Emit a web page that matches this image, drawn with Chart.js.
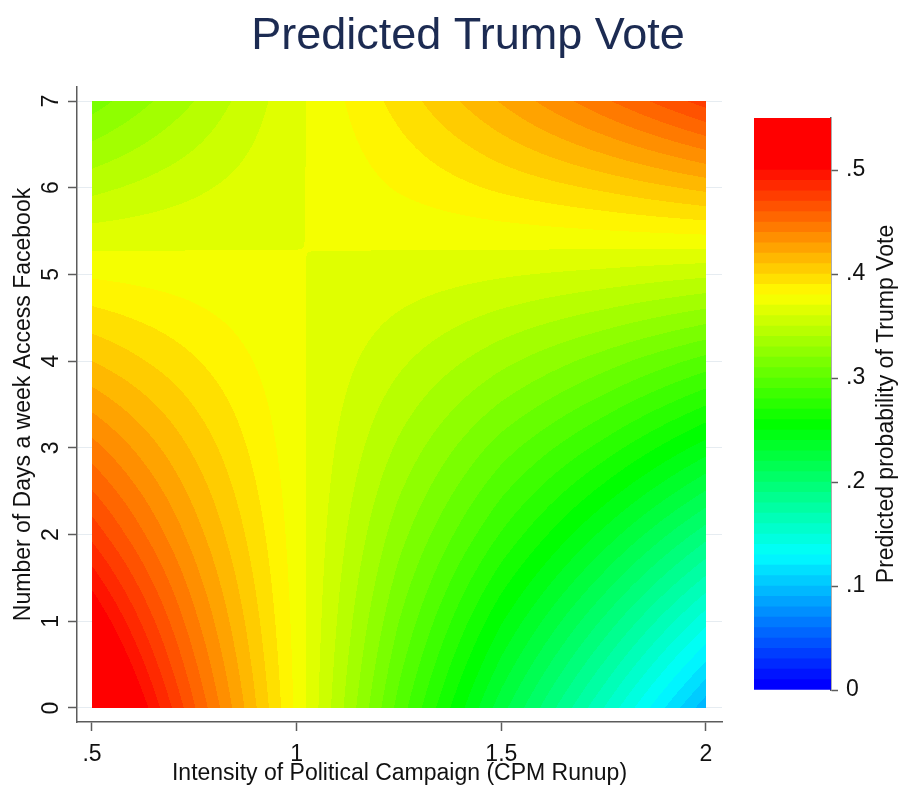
<!DOCTYPE html>
<html>
<head>
<meta charset="utf-8">
<title>Predicted Trump Vote</title>
<script src="https://cdn.jsdelivr.net/npm/chart.js@4.4.1/dist/chart.umd.min.js"></script>
<style>
  html, body { margin: 0; padding: 0; background: #fff; overflow: hidden; }
  #wrap { position: relative; width: 904px; height: 794px; }
  #main { position: absolute; left: 0; top: 0; }
  #bar { position: absolute; left: 740px; top: 0; }
</style>
</head>
<body>
<div id="wrap">
  <canvas id="main" width="904" height="794"></canvas>
  <canvas id="bar" width="164" height="794"></canvas>
</div>
<script>
// grid: campaign intensity (x) by days on facebook (y)
const campaignX = [0.5, 0.75, 1, 1.25, 1.5, 1.75, 2];
const daysY = [0, 1, 2, 3, 4, 5, 6, 7];

// predicted probability per row of days, one value per campaignX
const probDays0 = [0.548, 0.461, 0.3773, 0.296, 0.224, 0.160, 0.093];
const probDays1 = [0.513, 0.443, 0.3759, 0.310, 0.251, 0.198, 0.143];
const probDays2 = [0.477, 0.425, 0.3745, 0.324, 0.279, 0.237, 0.194];
const probDays3 = [0.444, 0.408, 0.3731, 0.338, 0.305, 0.276, 0.245];
const probDays4 = [0.410, 0.391, 0.3718, 0.352, 0.333, 0.315, 0.296];
const probDays5 = [0.3785, 0.3746, 0.3704, 0.3658, 0.3612, 0.3570, 0.352];
const probDays6 = [0.347, 0.358, 0.3690, 0.381, 0.392, 0.402, 0.413];
const probDays7 = [0.315, 0.340, 0.3676, 0.394, 0.421, 0.448, 0.475];
const probRows = [probDays0, probDays1, probDays2, probDays3, probDays4, probDays5, probDays6, probDays7];

// contour cuts (steps of .01) and top of the legend
const contourCuts = [0, .01, .02, .03, .04, .05, .06, .07, .08, .09,
  .10, .11, .12, .13, .14, .15, .16, .17, .18, .19,
  .20, .21, .22, .23, .24, .25, .26, .27, .28, .29,
  .30, .31, .32, .33, .34, .35, .36, .37, .38, .39,
  .40, .41, .42, .43, .44, .45, .46, .47, .48, .49, .50];
const legendTop = 0.55;

const xTicks = [0.5, 1, 1.5, 2];
const xTickLabels = ['.5', '1', '1.5', '2'];
const yTicks = [0, 1, 2, 3, 4, 5, 6, 7];
const yTickLabels = ['0', '1', '2', '3', '4', '5', '6', '7'];
const legendTicks = [0, 0.1, 0.2, 0.3, 0.4, 0.5];
const legendTickLabels = ['0', '.1', '.2', '.3', '.4', '.5'];

const FONT = "'Liberation Sans', Arial, sans-serif";
const AXIS = '#5c5c5c';

// band k (1..51) -> hue from blue to red
function bandColor(k) {
  const n = contourCuts.length;
  const h = 240 * (n - k) / (n - 1);
  let r, g, b;
  if (h >= 180) { r = 0; g = 1 - (h - 180) / 60; b = 1; }
  else if (h >= 120) { r = 0; g = 1; b = (h - 120) / 60; }
  else if (h >= 60) { r = 1 - (h - 60) / 60; g = 1; b = 0; }
  else { r = 1; g = h / 60; b = 0; }
  return 'rgb(' + Math.round(r * 255) + ',' + Math.round(g * 255) + ',' + Math.round(b * 255) + ')';
}
const bandColors = contourCuts.map((c, i) => bandColor(i + 1));

function bandOf(v) {
  let k = 0;
  while (k < contourCuts.length && v >= contourCuts[k] - 1e-9) k++;
  return Math.max(1, k);
}

function locate(grid, v) {
  let i = 0;
  while (i < grid.length - 2 && v > grid[i + 1]) i++;
  let t = (v - grid[i]) / (grid[i + 1] - grid[i]);
  return [i, Math.min(1, Math.max(0, t))];
}

function probAt(xv, yv) {
  const [i, tx] = locate(campaignX, xv);
  const [j, ty] = locate(daysY, yv);
  const a = probRows[j][i], b = probRows[j][i + 1];
  const c = probRows[j + 1][i], d = probRows[j + 1][i + 1];
  return (1 - tx) * (1 - ty) * a + tx * (1 - ty) * b + (1 - tx) * ty * c + tx * ty * d;
}

// fills the contour bands pixel row by pixel row through the chart scales
const contourPlugin = {
  id: 'contour',
  beforeDatasetsDraw(chart) {
    const xs = chart.scales.x, ys = chart.scales.y, ctx = chart.ctx;
    const x0 = Math.round(xs.getPixelForValue(campaignX[0]));
    const x1 = Math.round(xs.getPixelForValue(campaignX[campaignX.length - 1]));
    const y0 = Math.round(ys.getPixelForValue(daysY[daysY.length - 1]));
    const y1 = Math.round(ys.getPixelForValue(daysY[0]));
    ctx.save();
    for (let py = y0; py < y1; py++) {
      const yv = ys.getValueForPixel(py + 0.5);
      let start = x0, band = -1;
      for (let px = x0; px <= x1; px++) {
        const k = px < x1 ? bandOf(probAt(xs.getValueForPixel(px + 0.5), yv)) : -2;
        if (k !== band) {
          if (band > 0) {
            ctx.fillStyle = bandColors[band - 1];
            ctx.fillRect(start, py, px - start, 1);
          }
          start = px; band = k;
        }
      }
    }
    ctx.restore();
  }
};

const titlePlugin = {
  id: 'mainTitle',
  afterDraw(chart) {
    const ctx = chart.ctx;
    ctx.save();
    ctx.font = '45px ' + FONT;
    ctx.fillStyle = '#1c2b52';
    ctx.textAlign = 'center';
    ctx.textBaseline = 'alphabetic';
    ctx.fillText('Predicted Trump Vote', 468, 49);
    ctx.restore();
  }
};

new Chart(document.getElementById('main'), {
  type: 'scatter',
  data: { datasets: [] },
  options: {
    responsive: false,
    animation: false,
    events: [],
    layout: { padding: { left: 0, top: 87, right: 182, bottom: 0 } },
    plugins: { legend: { display: false }, tooltip: { enabled: false } },
    scales: {
      x: {
        type: 'linear', min: 0.4634, max: 2.0391,
        afterBuildTicks: s => { s.ticks = xTicks.map(v => ({ value: v })); },
        afterFit: s => { s.height = 72; },
        grid: { drawOnChartArea: false, tickLength: 9, tickColor: AXIS, tickWidth: 1.5 },
        border: { color: AXIS, width: 1.5 },
        ticks: { autoSkip: false, maxRotation: 0, padding: 10, color: '#111',
          font: { family: FONT, size: 23 }, callback: (v, i) => xTickLabels[i] },
        title: { display: true, text: 'Intensity of Political Campaign (CPM Runup)', color: '#111',
          font: { family: FONT, size: 23 }, padding: { top: 0, bottom: 7 } }
      },
      y: {
        type: 'linear', min: -0.1615, max: 7.1615,
        afterBuildTicks: s => { s.ticks = yTicks.map(v => ({ value: v })); },
        afterFit: s => { s.width = 77; },
        grid: { color: '#e6ecf1', lineWidth: 1, tickLength: 9, tickColor: AXIS, tickWidth: 1.5 },
        border: { color: AXIS, width: 1.5 },
        ticks: { autoSkip: false, minRotation: 90, maxRotation: 90, crossAlign: 'center', padding: 10,
          color: '#111', font: { family: FONT, size: 23 }, callback: (v, i) => yTickLabels[i] },
        title: { display: true, text: 'Number of Days a week Access Facebook', color: '#111',
          font: { family: FONT, size: 23 }, padding: { top: 10, bottom: 0 } }
      }
    }
  },
  plugins: [contourPlugin, titlePlugin]
});

// legend bar: one floating bar per contour band
const legendBands = contourCuts.map((c, i) => [c, i + 1 < contourCuts.length ? contourCuts[i + 1] : legendTop]);

const legendTitlePlugin = {
  id: 'legendTitle',
  afterDraw(chart) {
    const ctx = chart.ctx, a = chart.chartArea;
    ctx.save();
    ctx.translate(a.right + 56, (a.top + a.bottom) / 2);
    ctx.rotate(-Math.PI / 2);
    ctx.font = '23px ' + FONT;
    ctx.fillStyle = '#111';
    ctx.textAlign = 'center';
    ctx.textBaseline = 'middle';
    ctx.fillText('Predicted probability of Trump Vote', 0, 0);
    ctx.restore();
  }
};

new Chart(document.getElementById('bar'), {
  type: 'bar',
  data: {
    labels: ['p'],
    datasets: legendBands.map((b, i) => ({
      data: [b], backgroundColor: bandColors[i], borderWidth: 0,
      barPercentage: 1, categoryPercentage: 1, grouped: false
    }))
  },
  options: {
    responsive: false,
    animation: false,
    events: [],
    layout: { padding: { left: 14, top: 118, right: 0, bottom: 104 } },
    plugins: { legend: { display: false }, tooltip: { enabled: false } },
    scales: {
      x: { display: false },
      y: {
        position: 'right', min: 0, max: legendTop,
        afterBuildTicks: s => { s.ticks = legendTicks.map(v => ({ value: v })); },
        afterFit: s => { s.width = 73; },
        grid: { drawOnChartArea: false, tickLength: 7, tickColor: AXIS, tickWidth: 1.5 },
        border: { color: AXIS, width: 1.5 },
        ticks: { autoSkip: false, padding: 8, color: '#111', font: { family: FONT, size: 23 },
          callback: (v, i) => legendTickLabels[i] }
      }
    }
  },
  plugins: [legendTitlePlugin]
});
</script>
</body>
</html>
